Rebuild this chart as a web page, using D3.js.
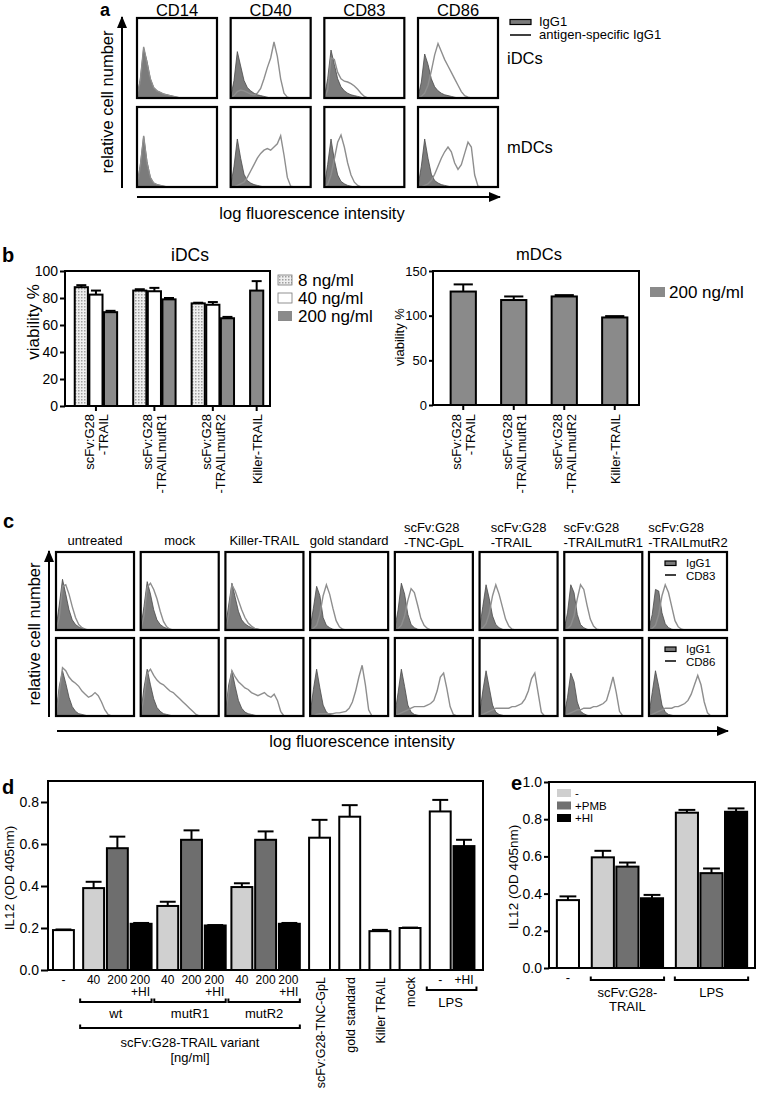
<!DOCTYPE html>
<html><head><meta charset="utf-8">
<script src="https://cdn.jsdelivr.net/npm/d3@7"></script>
<style>
html,body{margin:0;padding:0;background:#fff;}
svg{display:block;font-family:"Liberation Sans",Arial,Helvetica,sans-serif;}
</style></head><body>
<svg id="fig" width="757" height="1094"></svg>
<script>
// ================= DATA =================
// Panel a: flow cytometry histograms (relative counts, 25 log-bins per box)
const aMarkers = ["CD14", "CD40", "CD83", "CD86"];
const aRows = ["iDCs", "mDCs"];
const aIsoIDC = [
  [1,24,62,46,24,13,9,7,5,4,3,2,1,0],
  [1,22,58,40,22,13,9,6,4,3,2,1,0],
  [1,24,60,42,24,14,9,6,4,3,2,1,0],
  [1,20,55,42,24,14,9,6,4,3,2,1,0]
];
const aLineIDC = [
  [1,22,64,44,24,13,9,7,5,4,3,2,1,0],
  [0,3,8,10,9,7,5,4,6,12,24,38,50,70,52,24,6,1,0],
  [0,10,50,48,32,24,21,20,18,15,11,6,2,0],
  [0,2,6,16,34,54,68,58,48,40,32,24,16,8,3,1,0]
];
const aIsoMDC = [
  [1,28,63,32,12,5,3,2,1,0],
  [1,26,60,36,16,8,5,3,2,1,0],
  [1,28,60,34,15,7,4,2,1,0],
  [1,26,60,36,16,8,5,3,2,1,0]
];
const aLineMDC = [
  [1,26,64,30,12,5,3,2,1,0],
  [0,0,2,4,6,12,20,28,36,42,46,48,46,50,54,64,40,12,1,0],
  [0,3,15,35,56,65,50,30,15,6,2,0],
  [0,0,2,4,8,16,26,36,44,50,44,30,22,28,42,56,50,15,1,0]
];
const aLegend = ["IgG1", "antigen-specific IgG1"];

// Panel b: viability
const bGroups = ["scFv:G28\n-TRAIL", "scFv:G28\n-TRAILmutR1", "scFv:G28\n-TRAILmutR2", "Killer-TRAIL"];
const bSeries = ["8 ng/ml", "40 ng/ml", "200 ng/ml"];
const bIDC8 = [88, 85.5, 76, null];
const bIDC40 = [82.5, 85, 75, null];
const bIDC200 = [69.5, 79, 65, 85.5];
const bIDC8Err = [1.5, 1, 0.5, null];
const bIDC40Err = [3, 2.5, 2, null];
const bIDC200Err = [1, 1, 1, 7];
const bMDC200 = [127, 117.5, 121.5, 98];
const bMDC200Err = [8, 4, 1.5, 1.5];
const bIDCTicks = [0, 20, 40, 60, 80, 100];
const bMDCTicks = [0, 50, 100, 150];

// Panel c: CD83 / CD86 histograms
const cCols = ["untreated", "mock", "Killer-TRAIL", "gold standard", "scFv:G28\n-TNC-GpL",
               "scFv:G28\n-TRAIL", "scFv:G28\n-TRAILmutR1", "scFv:G28\n-TRAILmutR2"];
const cRows = ["CD83", "CD86"];
const cIsoCD83 = [
  [2,32,65,46,26,13,7,4,2,1,0],
  [2,30,62,46,26,13,7,4,2,1,0],
  [2,32,60,42,24,13,8,5,3,2,1,0],
  [2,28,56,44,16,6,3,1,0],
  [2,26,60,46,20,7,3,1,0],
  [2,30,58,40,18,7,3,1,0],
  [2,22,58,48,20,7,3,1,0],
  [2,20,52,50,22,8,3,1,0]
];
const cLineCD83 = [
  [0,16,56,58,46,30,16,7,3,1,0],
  [0,18,55,60,52,40,24,11,4,1,0],
  [0,20,58,50,38,26,16,9,5,2,1,0],
  [0,2,6,20,44,58,46,28,12,4,1,0],
  [0,2,6,18,38,53,48,32,15,6,2,0],
  [0,3,8,22,44,58,46,30,14,5,1,0],
  [0,2,6,18,40,58,52,32,14,5,1,0],
  [0,2,6,20,44,58,48,30,12,4,1,0]
];
const cIsoCD86 = [
  [2,38,58,42,24,12,6,3,2,1,0],
  [2,36,60,40,22,11,6,3,2,1,0],
  [2,40,58,38,20,10,5,3,2,1,0],
  [2,34,60,36,14,5,2,1,0],
  [2,30,60,38,14,5,2,1,0],
  [2,32,58,36,14,5,2,1,0],
  [2,24,55,44,18,6,3,1,0],
  [2,30,58,38,14,5,2,1,0]
];
const cLineCD86 = [
  [0,30,62,58,50,45,42,38,32,28,24,26,30,26,18,8,2,0],
  [0,25,55,60,52,46,42,40,36,32,30,26,22,18,14,10,6,2,0],
  [0,30,58,50,44,40,36,34,30,28,26,28,30,26,24,28,20,6,0],
  [0,0,2,3,3,3,3,3,4,4,5,6,10,18,32,50,65,40,8,0],
  [0,2,4,6,8,10,12,12,12,12,14,16,20,32,50,55,35,12,2,0],
  [0,2,4,6,8,10,10,10,10,10,12,12,14,16,22,32,48,55,30,5,0],
  [0,2,4,6,8,8,10,10,10,12,12,14,16,20,34,50,30,6,0],
  [0,2,4,6,8,10,10,10,12,12,14,16,20,28,40,52,40,18,4,0]
];

// Panel d: IL12 (OD 405nm)
const dLabels = ["-", "40", "200", "200\n+HI", "40", "200", "200\n+HI", "40", "200", "200\n+HI",
                 "scFv:G28-TNC-GpL", "gold standard", "Killer TRAIL", "mock", "-", "+HI"];
const dGroup = ["ctrl", "wt", "wt", "wt", "mutR1", "mutR1", "mutR1", "mutR2", "mutR2", "mutR2",
                "TNC", "gold", "killer", "mock", "LPS", "LPS"];
const dTreat = ["none", "40", "200", "HI", "40", "200", "HI", "40", "200", "HI",
                "none", "none", "none", "none", "none", "HI"];
const dValues = [0.19, 0.39, 0.58, 0.22, 0.305, 0.62, 0.212, 0.395, 0.62, 0.22, 0.63, 0.73, 0.185, 0.2, 0.755, 0.59];
const dErrors = [0.003, 0.03, 0.055, 0.004, 0.02, 0.045, 0.002, 0.018, 0.04, 0.004, 0.085, 0.055, 0.006, 0.002, 0.055, 0.03];
const dVariantGroups = ["wt", "mutR1", "mutR2"];
const dRotated = ["scFv:G28-TNC-GpL", "gold standard", "Killer TRAIL", "mock"];
const dVariantTitle = ["scFv:G28-TRAIL variant", "[ng/ml]"];
const dTicks = [0, 0.2, 0.4, 0.6, 0.8];

// Panel e
const eGroups = ["-", "scFv:G28-\nTRAIL", "LPS"];
const eSeries = ["-", "+PMB", "+HI"];
const eCtrl = [0.365];
const eCtrlErr = [0.02];
const eScfv = [0.595, 0.545, 0.375];
const eScfvErr = [0.035, 0.022, 0.018];
const eLPS = [0.835, 0.51, 0.84];
const eLPSErr = [0.015, 0.025, 0.018];
const eTicks = [0, 0.2, 0.4, 0.6, 0.8, 1.0];

// ================= DRAWING =================
const svg = d3.select("#fig");
const defs = svg.append("defs");
defs.append("marker").attr("id", "arr").attr("markerUnits", "userSpaceOnUse")
  .attr("markerWidth", 12).attr("markerHeight", 10).attr("refX", 11).attr("refY", 5).attr("orient", "auto")
  .append("path").attr("d", "M0,0L12,5L0,10Z").attr("fill", "#000");
const pat = defs.append("pattern").attr("id", "dots").attr("width", 3).attr("height", 3).attr("patternUnits", "userSpaceOnUse");
pat.append("rect").attr("width", 3).attr("height", 3).attr("fill", "#efefef");
pat.append("rect").attr("width", 1.5).attr("height", 1.5).attr("fill", "#a0a0a0");

const ISO_FILL = "#7b7b7b", LINE_COL = "#8e8e8e";

function T(g, x, y, s, size, anchor = "middle", weight = "normal") {
  return g.append("text").attr("x", x).attr("y", y).attr("font-size", size)
    .attr("text-anchor", anchor).attr("font-weight", weight).attr("fill", "#000").text(s);
}
function rotLabel(g, x, yTop, lines, size, lh) {
  const t = g.append("text").attr("transform", `translate(${x},${yTop}) rotate(-90)`)
    .attr("font-size", size).attr("text-anchor", "end").attr("fill", "#000");
  const v1 = 5 - (lines.length - 1) * lh / 2;
  lines.forEach((l, i) => t.append("tspan").attr("x", 0).attr("y", v1 + i * lh).text(l));
}
function rotTitle(g, x, y, s, size) {
  g.append("text").attr("transform", `translate(${x},${y}) rotate(-90)`).attr("font-size", size)
    .attr("text-anchor", "middle").attr("fill", "#000").text(s);
}
function arrow(g, x1, y1, x2, y2) {
  g.append("line").attr("x1", x1).attr("y1", y1).attr("x2", x2).attr("y2", y2)
    .attr("stroke", "#000").attr("stroke-width", 2).attr("marker-end", "url(#arr)");
}
function hist(g, x0, y0, w, h, iso, line) {
  const x = d3.scaleLinear().domain([0, 24]).range([x0, x0 + w]);
  const y = d3.scaleLinear().domain([0, 100]).range([y0 + h, y0]);
  g.append("path").attr("d", d3.area().x((d, i) => x(i)).y0(y(0)).y1(d => y(d))(iso))
    .attr("fill", ISO_FILL).attr("stroke", "#4a4a4a").attr("stroke-width", 0.8);
  g.append("path").attr("d", d3.line().x((d, i) => x(i)).y(d => y(d))(line))
    .attr("fill", "none").attr("stroke", LINE_COL).attr("stroke-width", 1.4);
  g.append("rect").attr("x", x0).attr("y", y0).attr("width", w).attr("height", h)
    .attr("fill", "none").attr("stroke", "#000").attr("stroke-width", 2.2);
}
function bar(g, cx, bw, y, v, e, fill) {
  if (e != null && e > 0) {
    g.append("line").attr("x1", cx).attr("x2", cx).attr("y1", y(v)).attr("y2", y(v + e))
      .attr("stroke", "#000").attr("stroke-width", 2);
    g.append("line").attr("x1", cx - bw * 0.38).attr("x2", cx + bw * 0.38).attr("y1", y(v + e)).attr("y2", y(v + e))
      .attr("stroke", "#000").attr("stroke-width", 2);
  }
  g.append("rect").attr("x", cx - bw / 2).attr("y", y(v)).attr("width", bw).attr("height", y(0) - y(v))
    .attr("fill", fill).attr("stroke", "#000").attr("stroke-width", 2);
}
function frame(g, x0, y0, x1, y1) {
  g.append("rect").attr("x", x0).attr("y", y0).attr("width", x1 - x0).attr("height", y1 - y0)
    .attr("fill", "none").attr("stroke", "#000").attr("stroke-width", 2);
}
function yAxis(g, x, y, ticks, fmt, size, tickSize, pad) {
  const ax = g.append("g").attr("transform", `translate(${x},0)`)
    .call(d3.axisLeft(y).tickValues(ticks).tickFormat(fmt).tickSize(tickSize).tickPadding(pad));
  ax.select(".domain").remove();
  ax.selectAll("line").attr("stroke", "#000").attr("stroke-width", 2);
  ax.selectAll("text").attr("font-size", size).attr("fill", "#000")
    .attr("font-family", '"Liberation Sans", Arial, sans-serif');
}
function bracket(g, x1, x2, y) {
  g.append("path").attr("d", `M${x1},${y - 3.5}V${y}H${x2}V${y - 3.5}`)
    .attr("fill", "none").attr("stroke", "#000").attr("stroke-width", 2);
}

// ---------- Panel a ----------
const gA = svg.append("g");
T(gA, 100, 16, "a", 18, "start", "bold");
const aX = d3.scaleBand().domain(aMarkers).range([137, 498]).paddingInner(0.146);
const aY = d3.scaleBand().domain(aRows).range([18, 187]).paddingInner(0.101);
aMarkers.forEach((m, i) => {
  T(gA, aX(m) + aX.bandwidth() / 2, 15.5, m, 16.5);
  hist(gA, aX(m), aY("iDCs"), aX.bandwidth(), aY.bandwidth(), aIsoIDC[i], aLineIDC[i]);
  hist(gA, aX(m), aY("mDCs"), aX.bandwidth(), aY.bandwidth(), aIsoMDC[i], aLineMDC[i]);
});
aRows.forEach(r => T(gA, 507, aY(r) + aY.bandwidth() / 2 + 6, r, 16.5, "start"));
arrow(gA, 122, 188, 122, 17);
arrow(gA, 137, 197, 500, 197);
rotTitle(gA, 113, 102, "relative cell number", 16.5);
T(gA, 312, 219, "log fluorescence intensity", 16.5);
gA.append("rect").attr("x", 510).attr("y", 19.5).attr("width", 21).attr("height", 5)
  .attr("fill", ISO_FILL).attr("stroke", "#000").attr("stroke-width", 1.2);
gA.append("line").attr("x1", 510).attr("x2", 531).attr("y1", 35).attr("y2", 35).attr("stroke", "#000").attr("stroke-width", 1.5);
T(gA, 539, 26, aLegend[0], 13, "start");
T(gA, 539, 39, aLegend[1], 13, "start");

// ---------- Panel b ----------
const gB = svg.append("g");
T(gB, 2, 262, "b", 20, "start", "bold");
// iDCs
const bFill = d3.scaleOrdinal().domain(bSeries).range(["url(#dots)", "#ffffff", "#8a8a8a"]);
const bVals = [bIDC8, bIDC40, bIDC200], bErrs = [bIDC8Err, bIDC40Err, bIDC200Err];
const bSlots = [];
bGroups.forEach((g, gi) => {
  if (gi > 0) bSlots.push({ key: "gap" + gi });
  bVals.forEach((arr, si) => {
    if (arr[gi] != null) bSlots.push({ key: gi + "-" + si, gi: gi, si: si, v: arr[gi], e: bErrs[si][gi] });
  });
});
const bxI = d3.scaleBand().domain(bSlots.map(d => d.key)).range([74.75, 263.25]).paddingInner(0.1);
const byI = d3.scaleLinear().domain([0, 100]).range([406, 271]);
T(gB, 190, 261, "iDCs", 17.5);
bSlots.filter(d => d.gi != null).forEach(d => {
  bar(gB, bxI(d.key) + bxI.bandwidth() / 2, bxI.bandwidth(), byI, d.v, d.e, bFill(bSeries[d.si]));
});
frame(gB, 65, 271, 270, 406);
yAxis(gB, 65, byI, bIDCTicks, d3.format("d"), 14, 5, 2);
bGroups.forEach((g, gi) => {
  const cs = bSlots.filter(d => d.gi === gi).map(d => bxI(d.key) + bxI.bandwidth() / 2);
  const cx = d3.mean(cs);
  gB.append("line").attr("x1", cx).attr("x2", cx).attr("y1", 406).attr("y2", 411).attr("stroke", "#000").attr("stroke-width", 2);
  rotLabel(gB, cx, 414, g.split("\n"), 13, 14);
});
rotTitle(gB, 39, 322, "viability %", 17);
bSeries.forEach((s, i) => {
  const yy = 280 + i * 18;
  gB.append("rect").attr("x", 278).attr("y", yy - 5).attr("width", 14).attr("height", 10)
    .attr("fill", bFill(s)).attr("stroke", i === 2 ? "none" : "#777").attr("stroke-width", 0.8);
  T(gB, 298, yy + 6, s, 17, "start");
});
// mDCs
const bxM = d3.scaleBand().domain(bGroups).range([438, 640]).paddingInner(0.5).paddingOuter(0.25);
const byM = d3.scaleLinear().domain([0, 150]).range([405, 271]);
T(gB, 539, 260, "mDCs", 16.5);
bGroups.forEach((g, gi) => {
  const cx = bxM(g) + bxM.bandwidth() / 2;
  bar(gB, cx, bxM.bandwidth(), byM, bMDC200[gi], bMDC200Err[gi], bFill("200 ng/ml"));
  gB.append("line").attr("x1", cx).attr("x2", cx).attr("y1", 405).attr("y2", 410).attr("stroke", "#000").attr("stroke-width", 2);
  rotLabel(gB, cx, 414, g.split("\n"), 13, 14);
});
frame(gB, 433, 271, 639, 405);
yAxis(gB, 433, byM, bMDCTicks, d3.format("d"), 13, 4, 2);
rotTitle(gB, 404, 337, "viability %", 13);
gB.append("rect").attr("x", 650).attr("y", 287).attr("width", 15).attr("height", 10).attr("fill", bFill("200 ng/ml"));
T(gB, 669, 298, "200 ng/ml", 17, "start");

// ---------- Panel c ----------
const gC = svg.append("g");
T(gC, 3, 528, "c", 20, "start", "bold");
const cX = d3.scaleBand().domain(d3.range(cCols.length)).range([56, 727]).paddingInner(0.079);
const cY = d3.scaleBand().domain(cRows).range([552, 716]).paddingInner(0.093);
cCols.forEach((c, i) => {
  const cx = cX(i) + cX.bandwidth() / 2;
  const lines = c.split("\n");
  if (lines.length === 1) T(gC, cx, 545, c, 13);
  else {
    const t = gC.append("text").attr("font-size", 13).attr("text-anchor", "start").attr("fill", "#000");
    lines.forEach((l, j) => t.append("tspan").attr("x", 0).attr("y", j * 15).text(l));
    const w = t.node().getBBox().width;
    t.attr("transform", `translate(${cx - w / 2},532)`);
  }
  hist(gC, cX(i), cY("CD83"), cX.bandwidth(), cY.bandwidth(), cIsoCD83[i], cLineCD83[i]);
  hist(gC, cX(i), cY("CD86"), cX.bandwidth(), cY.bandwidth(), cIsoCD86[i], cLineCD86[i]);
});
cRows.forEach(r => {
  const y0 = cY(r);
  gC.append("rect").attr("x", 665).attr("y", y0 + 9).attr("width", 11).attr("height", 4.5)
    .attr("fill", ISO_FILL).attr("stroke", "#000").attr("stroke-width", 1.2);
  gC.append("line").attr("x1", 665).attr("x2", 676).attr("y1", y0 + 23).attr("y2", y0 + 23).attr("stroke", "#000").attr("stroke-width", 1.5);
  T(gC, 686, y0 + 15, "IgG1", 11.5, "start");
  T(gC, 686, y0 + 28, r, 11.5, "start");
});
arrow(gC, 49, 717, 49, 551);
arrow(gC, 57, 731, 728, 731);
rotTitle(gC, 40, 634, "relative cell number", 16.5);
T(gC, 362, 747, "log fluorescence intensity", 16.5);

// ---------- Panel d ----------
const gD = svg.append("g");
T(gD, 2, 794, "d", 20, "start", "bold");
const dFill = d3.scaleOrdinal().domain(["none", "40", "200", "HI"]).range(["#ffffff", "#d0d0d0", "#6e6e6e", "#000000"]);
const dUnits = [];
dGroup.forEach((g, i) => {
  if (i === 0) dUnits.push(0);
  else if (g === dGroup[i - 1]) dUnits.push(dUnits[i - 1] + 1);
  else {
    const inVar = dVariantGroups.includes(g) && dVariantGroups.includes(dGroup[i - 1]);
    dUnits.push(dUnits[i - 1] + (inVar ? 1.12 : 1.27));
  }
});
const dx = d3.scaleLinear().domain([-0.65, d3.max(dUnits) + 0.8]).range([48, 483]);
const dy = d3.scaleLinear().domain([0, 0.9]).range([970, 781]);
const dBW = (dx(1) - dx(0)) * 0.88;
dValues.forEach((v, i) => bar(gD, dx(dUnits[i]), dBW, dy, v, dErrors[i], dFill(dTreat[i])));
frame(gD, 48, 781, 483, 970);
yAxis(gD, 48, dy, dTicks, d3.format(".1f"), 14, 7, 2);
rotTitle(gD, 14, 878, "IL12 (OD 405nm)", 13.5);
dLabels.forEach((l, i) => {
  const cx = dx(dUnits[i]);
  if (dRotated.includes(l)) rotLabel(gD, cx, 977, [l], 12.5, 14);
  else if (l.includes("\n")) {
    const parts = l.split("\n");
    T(gD, cx + 9, 984, parts[0], 12, "end");
    T(gD, cx + 9, 996, parts[1], 12, "end");
  } else T(gD, cx, 984, l, 12);
});
const dBr = (g) => {
  const idx = d3.range(dGroup.length).filter(i => dGroup[i] === g);
  return [dx(dUnits[idx[0]]) - dBW / 2 - 3, dx(dUnits[idx[idx.length - 1]]) + dBW / 2];
};
dVariantGroups.forEach(g => {
  const [x1, x2] = dBr(g);
  bracket(gD, x1, x2, 1002);
  T(gD, (x1 + x2) / 2, 1018, g, 13);
});
{
  const [x1] = dBr(dVariantGroups[0]);
  const [, x2] = dBr(dVariantGroups[dVariantGroups.length - 1]);
  bracket(gD, x1, x2, 1028);
  T(gD, (x1 + x2) / 2, 1047, dVariantTitle[0], 13);
  T(gD, (x1 + x2) / 2, 1062, dVariantTitle[1], 13);
  const [l1, l2] = dBr("LPS");
  bracket(gD, l1, l2 + 2, 990);
  T(gD, (l1 + l2) / 2, 1007, "LPS", 13);
}

// ---------- Panel e ----------
const gE = svg.append("g");
T(gE, 511, 790, "e", 20, "start", "bold");
const eFill = d3.scaleOrdinal().domain(eSeries).range(["#cfcfcf", "#707070", "#000000"]);
const eData = [
  { g: eGroups[0], vals: eCtrl, errs: eCtrlErr },
  { g: eGroups[1], vals: eScfv, errs: eScfvErr },
  { g: eGroups[2], vals: eLPS, errs: eLPSErr }
];
let eu = -1.42;
eData.forEach((grp) => {
  grp.units = [];
  grp.vals.forEach((v, j) => { eu += (j === 0 ? 1.42 : 1); grp.units.push(eu); });
});
const ex = d3.scaleLinear().domain([-0.77, eu + 0.77]).range([549, 755]);
const ey = d3.scaleLinear().domain([0, 1.0]).range([968, 782]);
const eBW = (ex(1) - ex(0)) * 0.9;
eData.forEach((grp, gi) => {
  grp.vals.forEach((v, j) => bar(gE, ex(grp.units[j]), eBW, ey, v, grp.errs[j], gi === 0 ? "#ffffff" : eFill(eSeries[j])));
  if (gi === 0) T(gE, ex(grp.units[0]), 982, grp.g, 13);
  else {
    const x1 = ex(grp.units[0]) - eBW / 2 - 1, x2 = ex(grp.units[grp.units.length - 1]) + eBW / 2 + 1;
    bracket(gE, x1, x2, 980);
    grp.g.split("\n").forEach((l, k) => T(gE, (x1 + x2) / 2, 997 + k * 14, l, 13));
  }
});
frame(gE, 549, 782, 755, 968);
yAxis(gE, 549, ey, eTicks, d3.format(".1f"), 14, 5, 2);
rotTitle(gE, 518, 877, "IL12 (OD 405nm)", 13.5);
eSeries.forEach((s, i) => {
  const yy = 793 + i * 12.5;
  gE.append("rect").attr("x", 557).attr("y", yy - 4).attr("width", 14).attr("height", 8).attr("fill", eFill(s));
  T(gE, 575, yy + 4, s, 11.5, "start");
});
</script>
</body></html>
